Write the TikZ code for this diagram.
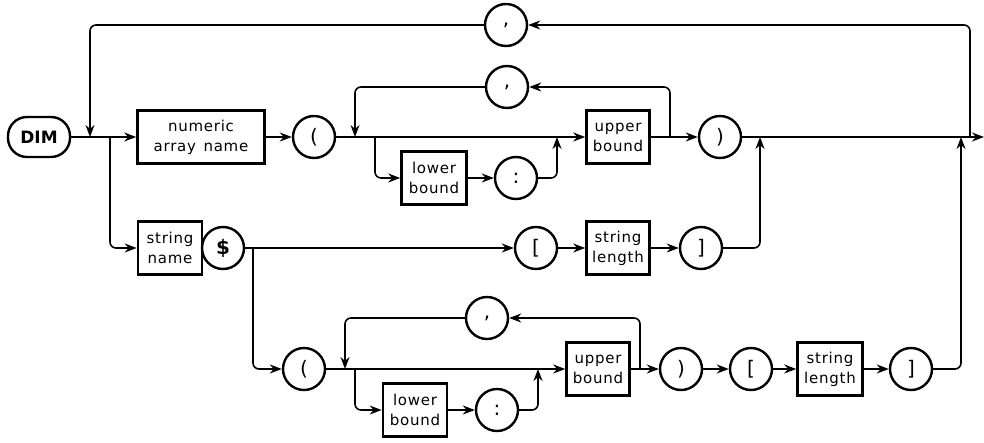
\documentclass[tikz,border=0pt]{standalone}
\usepackage{fontspec}
\setmainfont{DejaVu Sans}
\usetikzlibrary{arrows.meta}

\tikzset{
    term/.style={draw, circle, line width=2.4pt, minimum size=42pt, inner sep=0pt,
        font=\fontsize{20}{20}\selectfont},
    nonterm/.style={draw, rectangle, line width=2.6pt, minimum height=53pt, inner sep=2pt,
        align=center, font=\addfontfeature{LetterSpace=5}\fontsize{15}{20}\selectfont},
    keyword/.style={draw, rounded corners=19pt, line width=2.4pt, minimum width=62pt,
        minimum height=40pt, font=\bfseries\fontsize{17}{17}\selectfont},
    link/.style={line width=1.6pt, -{Stealth[length=12pt,width=9pt]}},
    curved/.style={rounded corners=6pt}
}

\begin{document}
\begin{tikzpicture}[x=1pt, y=-1pt]
    \useasboundingbox (0,0) rectangle (984,442);
    % numeric array row
    \node[keyword] (dim) at (39,137) {DIM};
    \node[nonterm, minimum width=127pt] (numname) at (201,137) {numeric\\array\enspace name};
    \node[term] (lparA) at (314,137) {(};
    \node[nonterm, minimum width=65pt] (lowA) at (434,178) {lower\\bound};
    \node[term] (colA) at (516,178) {:};
    \node[nonterm, minimum width=63pt] (upA) at (618,137) {upper\\bound};
    \node[term] (commaA) at (507,87) {,};
    \node[term] (rparA) at (720,137) {)};
    \node[term] (commaTop) at (506,25) {,};
    % string row
    \node[nonterm, minimum width=64pt] (strname) at (170,248) {string\\name};
    \node[term, font=\bfseries\fontsize{20}{20}\selectfont] (dollar) at (223,248) {\$};
    \node[term] (lbrB) at (536,248) {[};
    \node[nonterm, minimum width=63pt] (lenB) at (618,248) {string\\length};
    \node[term] (rbrB) at (701,248) {]};
    % string array row
    \node[term] (lparC) at (304,369) {(};
    \node[nonterm, minimum width=64pt] (lowC) at (415,410) {lower\\bound};
    \node[term] (colC) at (497,410) {:};
    \node[nonterm, minimum width=63pt] (upC) at (598,369) {upper\\bound};
    \node[term] (commaC) at (487,318) {,};
    \node[term] (rparC) at (681,369) {)};
    \node[term] (lbrC) at (751,369) {[};
    \node[nonterm, minimum width=65pt] (lenC) at (830,369) {string\\length};
    \node[term] (rbrC) at (911,369) {]};
    % junctions
    \coordinate (topIn) at (90,137);
    \coordinate (strSplit) at (110,137);
    \coordinate (subInA) at (355,137);
    \coordinate (lowSplitA) at (375,137);
    \coordinate (colInA) at (557,137);
    \coordinate (subOutA) at (670,137);
    \coordinate (strInB) at (760,137);
    \coordinate (bottomIn) at (961,137);
    \coordinate (topOut) at (970,137);
    \coordinate (exit) at (984,137);
    \coordinate (arraySplit) at (253,248);
    \coordinate (subInC) at (345,369);
    \coordinate (lowSplitC) at (355,369);
    \coordinate (colInC) at (538,369);
    \coordinate (subOutC) at (640,369);
    % numeric array connectors
    \draw[link] (dim) -- (numname);
    \draw[link] (numname) -- (lparA);
    \draw[link] (lparA) -- (upA);
    \draw[link, curved] (lowSplitA) |- (lowA);
    \draw[link] (lowA) -- (colA);
    \draw[link, curved] (colA) -| (colInA);
    \draw[link, curved] (subOutA) |- (commaA);
    \draw[link, curved] (commaA) -| (subInA);
    \draw[link] (upA) -- (rparA);
    \draw[link] (rparA) -- (exit);
    \draw[link, curved] (topOut) |- (commaTop);
    \draw[link, curved] (commaTop) -| (topIn);
    % string connectors
    \draw[link, curved] (strSplit) |- (strname);
    \draw[link] (dollar) -- (lbrB);
    \draw[link] (lbrB) -- (lenB);
    \draw[link] (lenB) -- (rbrB);
    \draw[link, curved] (rbrB) -| (strInB);
    \draw[link, curved] (arraySplit) |- (lparC);
    % string array connectors
    \draw[link] (lparC) -- (upC);
    \draw[link, curved] (lowSplitC) |- (lowC);
    \draw[link] (lowC) -- (colC);
    \draw[link, curved] (colC) -| (colInC);
    \draw[link, curved] (subOutC) |- (commaC);
    \draw[link, curved] (commaC) -| (subInC);
    \draw[link] (upC) -- (rparC);
    \draw[link] (rparC) -- (lbrC);
    \draw[link] (lbrC) -- (lenC);
    \draw[link] (lenC) -- (rbrC);
    \draw[link, curved] (rbrC) -| (bottomIn);
\end{tikzpicture}
\end{document}
